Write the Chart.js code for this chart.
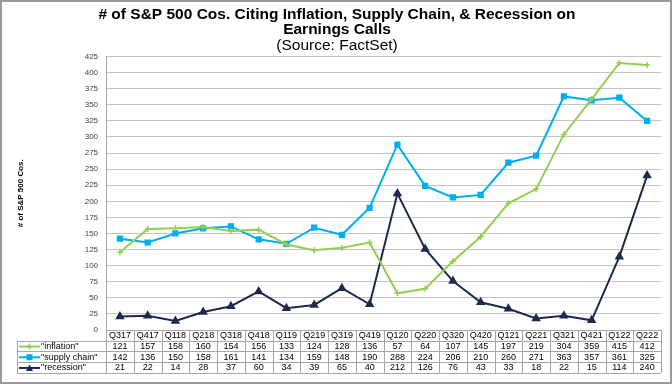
<!DOCTYPE html>
<html>
<head>
<meta charset="utf-8">
<script src="https://cdn.jsdelivr.net/npm/chart.js@4"></script>
<style>
  html, body { margin: 0; padding: 0; background: #fff; }
  #wrap { width: 672px; height: 384px; }
</style>
</head>
<body>
<div id="wrap"><canvas id="c" width="672" height="384"></canvas></div>
<script>
const quarters = ['Q317','Q417','Q118','Q218','Q318','Q418','Q119','Q219','Q319','Q419',
                  'Q120','Q220','Q320','Q420','Q121','Q221','Q321','Q421','Q122','Q222'];
const inflation   = [121,157,158,160,154,156,133,124,128,136,57,64,107,145,197,219,304,359,415,412];
const supplyChain = [142,136,150,158,161,141,134,159,148,190,288,224,206,210,260,271,363,357,361,325];
const recession   = [21,22,14,28,37,60,34,39,65,40,212,126,76,43,33,18,22,15,114,240];

const GREEN = '#92cf4f', BLUE = '#00aef0', NAVY = '#1c2b4d';
const FONT = '"Liberation Sans", Arial, sans-serif';
const rows = [
  { name: '"inflation"', data: inflation, color: GREEN, mark: 'plus' },
  { name: '"supply chain"', data: supplyChain, color: BLUE, mark: 'rect' },
  { name: '"recession"', data: recession, color: NAVY, mark: 'tri' }
];

function drawMark(ctx, kind, x, y, color) {
  ctx.fillStyle = color; ctx.strokeStyle = color;
  if (kind === 'rect') ctx.fillRect(x - 3, y - 3, 6, 6);
  else if (kind === 'tri') {
    ctx.beginPath(); ctx.moveTo(x, y - 3.5); ctx.lineTo(x + 3.5, y + 3); ctx.lineTo(x - 3.5, y + 3); ctx.closePath(); ctx.fill();
  } else {
    ctx.lineWidth = 1.5;
    ctx.beginPath(); ctx.moveTo(x - 3, y); ctx.lineTo(x + 3, y); ctx.moveTo(x, y - 3); ctx.lineTo(x, y + 3); ctx.stroke();
  }
}

// data table under the plot + outer frame
const frameAndTable = {
  id: 'frameAndTable',
  afterDraw(chart) {
    const { ctx, chartArea: a, scales: { x } } = chart;
    const n = quarters.length;
    const w = (a.right - a.left) / n;
    const top = a.bottom, rh = 10.7, legL = 17;
    ctx.save();
    ctx.strokeStyle = '#a6a6a6';
    ctx.lineWidth = 1;
    ctx.beginPath();
    for (let r = 0; r <= 4; r++) {
      const y = Math.round(top + r * rh) + 0.5;
      ctx.moveTo(r === 0 ? a.left : legL, y); ctx.lineTo(a.right, y);
    }
    for (let i = 0; i <= n; i++) {
      const xx = Math.round(a.left + i * w) + 0.5;
      ctx.moveTo(xx, top); ctx.lineTo(xx, top + 4 * rh);
    }
    ctx.moveTo(legL + 0.5, top + rh); ctx.lineTo(legL + 0.5, top + 4 * rh);
    ctx.stroke();

    ctx.fillStyle = '#000';
    ctx.font = '9px ' + FONT;
    ctx.textAlign = 'center';
    ctx.textBaseline = 'middle';
    quarters.forEach((q, i) => ctx.fillText(q, x.getPixelForValue(i), top + rh / 2 + 0.5));
    rows.forEach((row, r) => {
      const cy = top + (r + 1.5) * rh + 0.5;
      ctx.textAlign = 'center';
      ctx.fillStyle = '#000';
      row.data.forEach((v, i) => ctx.fillText(String(v), x.getPixelForValue(i), cy));
      ctx.strokeStyle = row.color; ctx.lineWidth = 2;
      ctx.beginPath(); ctx.moveTo(legL + 2, cy); ctx.lineTo(legL + 23, cy); ctx.stroke();
      drawMark(ctx, row.mark, legL + 12.5, cy, row.color);
      ctx.fillStyle = '#000';
      ctx.textAlign = 'left';
      ctx.fillText(row.name, legL + 24, cy);
    });

    ctx.strokeStyle = '#9a9a9a';
    ctx.lineWidth = 2;
    ctx.strokeRect(1, 1, 670, 382);
    ctx.restore();
  }
};

new Chart(document.getElementById('c').getContext('2d'), {
  type: 'line',
  data: {
    labels: quarters,
    datasets: [
      { label: '"inflation"', data: inflation, borderColor: GREEN, backgroundColor: GREEN,
        borderWidth: 2, pointStyle: 'cross', pointRadius: 3, pointBorderWidth: 1.5 },
      { label: '"supply chain"', data: supplyChain, borderColor: BLUE, backgroundColor: BLUE,
        borderWidth: 2, pointStyle: 'rect', pointRadius: 3 },
      { label: '"recession"', data: recession, borderColor: NAVY, backgroundColor: NAVY,
        borderWidth: 2, pointStyle: 'triangle', pointRadius: 3.5 }
    ]
  },
  options: {
    responsive: false,
    animation: false,
    layout: { padding: { left: 13, right: 11, bottom: 46, top: 0 } },
    plugins: {
      legend: { display: false },
      tooltip: { enabled: false },
      title: {
        display: true,
        text: ['# of S&P 500 Cos. Citing Inflation, Supply Chain, & Recession on', 'Earnings Calls'],
        color: '#000',
        font: { family: FONT, size: 15.5, weight: 'bold', lineHeight: 0.97 },
        padding: { top: 7.5, bottom: 0 }
      },
      subtitle: {
        display: true,
        text: '(Source: FactSet)',
        color: '#000',
        font: { family: FONT, size: 15.5, lineHeight: 1.0 },
        padding: { top: 0, bottom: 3.5 }
      }
    },
    scales: {
      x: {
        offset: true,
        ticks: { display: false },
        grid: { display: false },
        border: { display: false }
      },
      y: {
        min: 0, max: 425,
        ticks: { stepSize: 25, color: '#404040', padding: 8,
                 font: { family: FONT, size: 8 } },
        grid: { color: '#c4c4c4', lineWidth: 1, drawTicks: false },
        border: { color: '#a6a6a6', width: 1 },
        title: {
          display: true, text: '# of S&P 500 Cos.', color: '#000',
          font: { family: FONT, size: 8, weight: 'bold' },
          padding: { top: 2.7, bottom: 51.4 }
        }
      }
    }
  },
  plugins: [frameAndTable]
});
</script>
</body>
</html>
